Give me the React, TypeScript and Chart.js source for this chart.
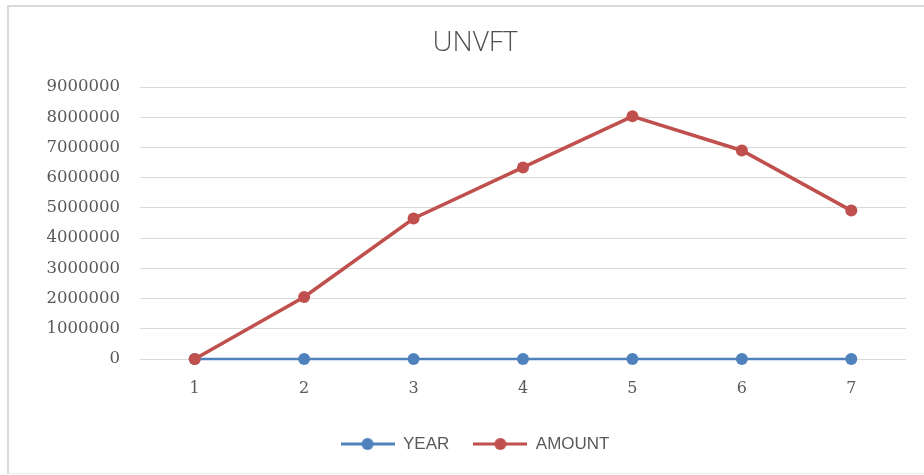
import React, { useEffect, useRef } from "react";
import { Chart, registerables } from "chart.js";

Chart.register(...registerables);

const TITLE = "UNVFT";
const CATEGORIES = ["1", "2", "3", "4", "5", "6", "7"];
const YEAR_VALUES = [2011, 2012, 2013, 2014, 2015, 2016, 2017];
const AMOUNT_VALUES = [0, 2050000, 4650000, 6340000, 8030000, 6900000, 4910000];
const Y_MIN = 0;
const Y_MAX = 9000000;
const Y_STEP = 1000000;

const BLUE = "#4F81BD";
const RED = "#C0504D";
const TEXT = "#595959";
const GRID = "#D9D9D9";

function makeLegendIcon(color: string): HTMLCanvasElement {
  const c = document.createElement("canvas");
  c.width = 54;
  c.height = 14;
  const ctx = c.getContext("2d")!;
  ctx.strokeStyle = color;
  ctx.lineWidth = 3;
  ctx.beginPath();
  ctx.moveTo(0, 7);
  ctx.lineTo(54, 7);
  ctx.stroke();
  ctx.fillStyle = color;
  ctx.beginPath();
  ctx.arc(27, 7, 6, 0, Math.PI * 2);
  ctx.fill();
  return c;
}

export default function App() {
  const canvasRef = useRef<HTMLCanvasElement | null>(null);

  useEffect(() => {
    if (!canvasRef.current) return;
    const icons = [makeLegendIcon(BLUE), makeLegendIcon(RED)];
    const chart = new Chart(canvasRef.current, {
      type: "line",
      data: {
        labels: CATEGORIES,
        datasets: [
          {
            label: "YEAR",
            data: YEAR_VALUES,
            borderColor: BLUE,
            backgroundColor: BLUE,
            borderWidth: 2.5,
            pointRadius: 6,
            pointBorderWidth: 0,
            pointBackgroundColor: BLUE,
            tension: 0,
            order: 1,
            clip: false as any,
          },
          {
            label: "AMOUNT",
            data: AMOUNT_VALUES,
            borderColor: RED,
            backgroundColor: RED,
            borderWidth: 3.5,
            pointRadius: 6,
            pointBorderWidth: 0,
            pointBackgroundColor: RED,
            tension: 0,
            order: 0,
            clip: false as any,
          },
        ],
      },
      options: {
        animation: false,
        responsive: false,
        maintainAspectRatio: false,
        layout: { padding: { left: 44, right: 18, top: 0, bottom: 12.5 } },
        plugins: {
          title: {
            display: true,
            text: TITLE,
            color: "#505050",
            font: { family: "'Open Sans'", size: 28, weight: "300" as any },
            padding: { top: 26.2, bottom: 27.2 },
          },
          legend: {
            display: true,
            position: "bottom",
            labels: {
              usePointStyle: true,
              pointStyleWidth: 54,
              boxHeight: 12,
              padding: 24,
              color: TEXT,
              font: { family: "'Liberation Sans'", size: 17 },
              generateLabels: () =>
                ["YEAR", "AMOUNT"].map((t, i) => ({
                  text: t,
                  fillStyle: i === 0 ? BLUE : RED,
                  strokeStyle: i === 0 ? BLUE : RED,
                  fontColor: TEXT,
                  lineWidth: 0,
                  hidden: false,
                  pointStyle: icons[i] as any,
                  datasetIndex: i,
                })),
            },
          },
          tooltip: { enabled: false },
        },
        scales: {
          x: {
            offset: true,
            grid: { display: false, drawTicks: false, offset: true },
            border: { display: false },
            ticks: {
              color: TEXT,
              font: { family: "'DejaVu Serif'", size: 16 },
              padding: 20,
            },
            afterFit: (scale: any) => {
              scale.height = 52.5;
            },
          },
          y: {
            min: Y_MIN,
            max: Y_MAX,
            grid: { color: GRID, lineWidth: 1, drawTicks: false },
            border: { display: false },
            ticks: {
              stepSize: Y_STEP,
              color: TEXT,
              font: { family: "'DejaVu Serif'", size: 16.5 },
              padding: 20,
              callback: (v: any) => String(v),
            },
            afterFit: (scale: any) => {
              scale.width = 96;
            },
          },
        },
      },
    });
    return () => chart.destroy();
  }, []);

  return (
    <div style={{ position: "fixed", left: 0, top: 0, width: 924, height: 475, background: "#fff" }}>
      <canvas ref={canvasRef} width={924} height={475} style={{ position: "absolute", left: 0, top: 0 }} />
      <div
        style={{
          position: "absolute",
          left: 7,
          top: 5,
          width: 940,
          height: 466,
          borderTop: "2px solid #D9D9D9",
          borderLeft: "2px solid #D9D9D9",
          borderBottom: "1px solid #EEEEEE",
          pointerEvents: "none",
        }}
      />
    </div>
  );
}
